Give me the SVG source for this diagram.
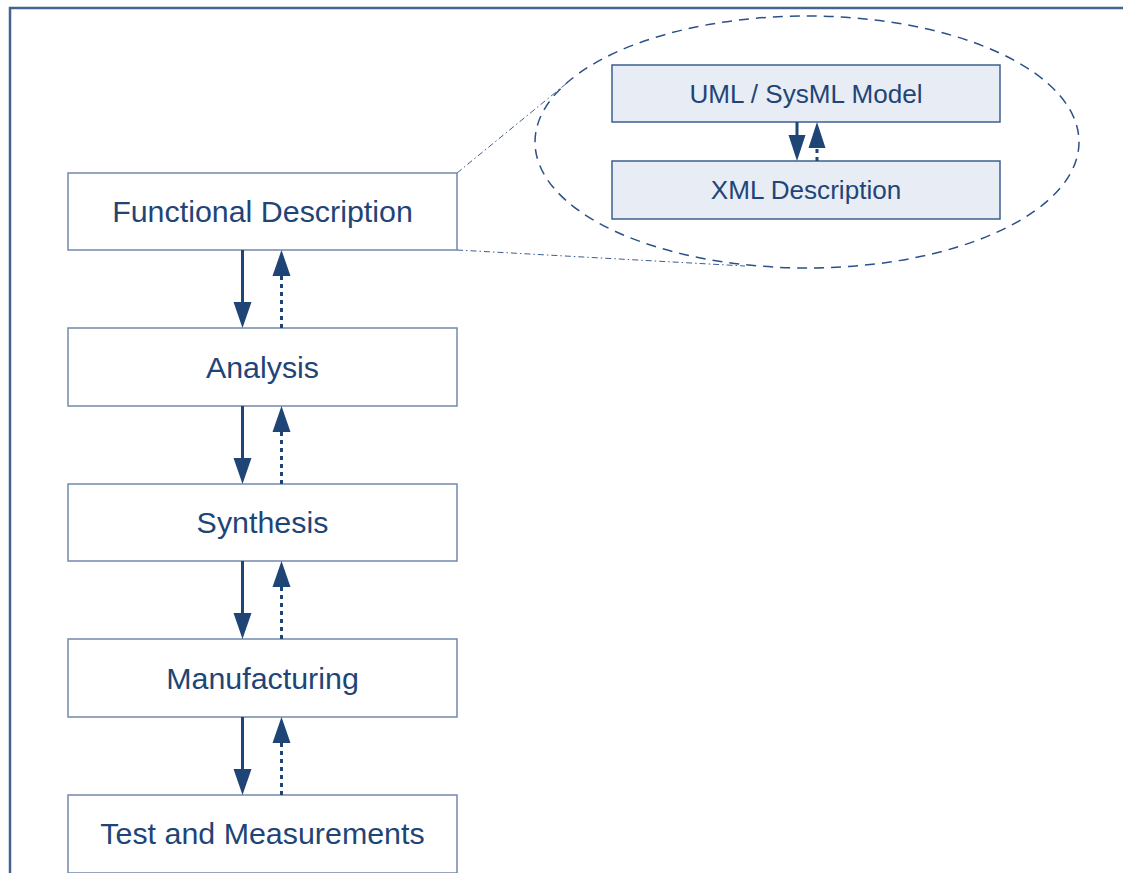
<svg xmlns="http://www.w3.org/2000/svg" width="1123" height="873" viewBox="0 0 1123 873">
<defs>
<style>
.box{fill:#ffffff;stroke:#7389ad;stroke-width:1.5}
.ibox{fill:#e8edf5;stroke:#3c5f91;stroke-width:1.5}
.t{font-family:"Liberation Sans",Arial,sans-serif;font-size:30.4px;fill:#1f4577;text-anchor:middle}
.ti{font-family:"Liberation Sans",Arial,sans-serif;font-size:26.1px;fill:#1f4577;text-anchor:middle}
.solid{stroke:#1f4577;stroke-width:3;fill:none}
.dot{stroke:#1f4577;stroke-width:3;fill:none;stroke-dasharray:4 4}
.head{fill:#1f4577}
.dd{stroke:#3c5f91;stroke-width:1;fill:none;stroke-dasharray:6 3 1.5 3}
</style>
</defs>
<rect width="1123" height="873" fill="#ffffff"/>
<g id="frame">
<path d="M10 873 V8 H1123" fill="none" stroke="#44648f" stroke-width="2.5"/>
</g>
<g id="zoom-ellipse">
<ellipse cx="807" cy="142" rx="272" ry="126" fill="none" stroke="#2b5189" stroke-width="1.5" stroke-dasharray="10 7"/>
<path class="dd" d="M457 173 L567 83"/>
<path class="dd" d="M457 250 L745 266"/>
</g>
<g id="functional-description">
<rect class="box" x="68" y="173" width="389" height="77"/>
<text class="t" x="262.5" y="222">Functional Description</text>
</g>
<g id="analysis">
<rect class="box" x="68" y="328" width="389" height="78"/>
<text class="t" x="262.5" y="377.5">Analysis</text>
</g>
<g id="synthesis">
<rect class="box" x="68" y="484" width="389" height="77"/>
<text class="t" x="262.5" y="533">Synthesis</text>
</g>
<g id="manufacturing">
<rect class="box" x="68" y="639" width="389" height="78"/>
<text class="t" x="262.5" y="688.5">Manufacturing</text>
</g>
<g id="test-and-measurements">
<rect class="box" x="68" y="795" width="389" height="78"/>
<text class="t" x="262.5" y="844">Test and Measurements</text>
</g>
<g id="uml-sysml-model">
<rect class="ibox" x="612" y="65" width="388" height="57"/>
<text class="ti" x="806" y="102.5">UML / SysML Model</text>
</g>
<g id="xml-description">
<rect class="ibox" x="612" y="161" width="388" height="58"/>
<text class="ti" x="806" y="199">XML Description</text>
</g>
<g id="connectors">
<g>
<path class="solid" d="M242.5 250 V304"/><path class="head" d="M233.5 302 L251.5 302 L242.5 328 Z"/>
<path class="dot" d="M281.5 328 V274"/><path class="head" d="M272.5 276 L290.5 276 L281.5 250 Z"/>
</g>
<g>
<path class="solid" d="M242.5 406 V460"/><path class="head" d="M233.5 458 L251.5 458 L242.5 484 Z"/>
<path class="dot" d="M281.5 484 V430"/><path class="head" d="M272.5 432 L290.5 432 L281.5 406 Z"/>
</g>
<g>
<path class="solid" d="M242.5 561 V615"/><path class="head" d="M233.5 613 L251.5 613 L242.5 639 Z"/>
<path class="dot" d="M281.5 639 V585"/><path class="head" d="M272.5 587 L290.5 587 L281.5 561 Z"/>
</g>
<g>
<path class="solid" d="M242.5 717 V771"/><path class="head" d="M233.5 769 L251.5 769 L242.5 795 Z"/>
<path class="dot" d="M281.5 795 V741"/><path class="head" d="M272.5 743 L290.5 743 L281.5 717 Z"/>
</g>
<g>
<path class="solid" d="M797 122 V137"/><path class="head" d="M788.5 135 L805.5 135 L797 161 Z"/>
<path class="dot" d="M817 161 V146"/><path class="head" d="M808.5 148 L825.5 148 L817 122 Z"/>
</g>
</g>
</svg>
